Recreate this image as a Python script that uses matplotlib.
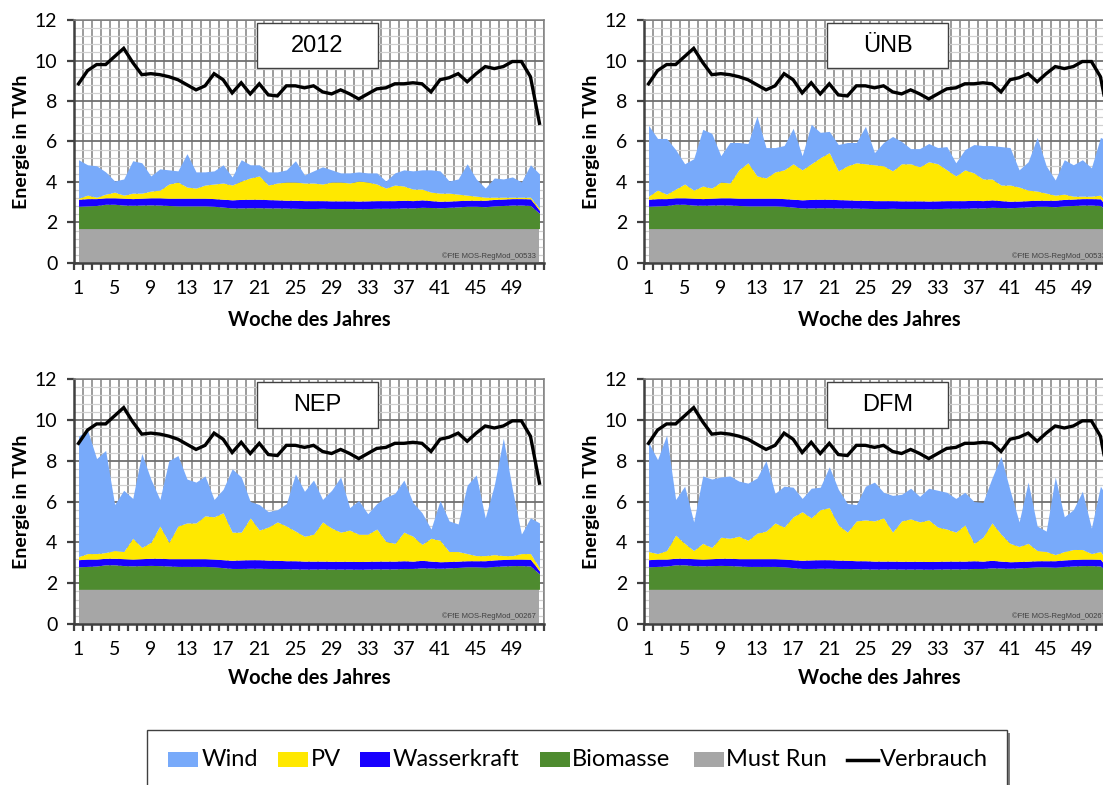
import matplotlib
matplotlib.use("Agg")
import matplotlib.pyplot as plt
import numpy as np
from matplotlib.patches import Rectangle
from matplotlib.lines import Line2D
from matplotlib.ticker import MultipleLocator, FixedLocator

weeks = list(range(1, 53))
xtick_labels = [1, 5, 9, 13, 17, 21, 25, 29, 33, 37, 41, 45, 49]

verbrauch = [8.85, 9.5, 9.8, 9.8, 10.2, 10.6, 9.9, 9.3, 9.35, 9.3,
             9.2, 9.05, 8.8, 8.55, 8.75, 9.35, 9.05, 8.4, 8.9, 8.35,
             8.85, 8.3, 8.25, 8.75, 8.75, 8.65, 8.75, 8.45, 8.35, 8.55,
             8.35, 8.1, 8.35, 8.6, 8.65, 8.85, 8.85, 8.9, 8.85, 8.45,
             9.05, 9.15, 9.35, 8.95, 9.35, 9.7, 9.6, 9.7, 9.95, 9.95,
             9.2, 6.9]

# stacked upper edges (TWh)
must_run_top = [1.7] * 52
biomasse_top = [2.80, 2.82, 2.84, 2.90, 2.90, 2.86, 2.85, 2.86, 2.87, 2.86,
                2.84, 2.82, 2.82, 2.82, 2.82, 2.80, 2.76, 2.72, 2.72, 2.73,
                2.73, 2.72, 2.72, 2.71, 2.70, 2.69, 2.69, 2.70, 2.69, 2.69,
                2.69, 2.68, 2.69, 2.70, 2.70, 2.70, 2.72, 2.72, 2.75, 2.74,
                2.73, 2.75, 2.77, 2.80, 2.80, 2.78, 2.82, 2.84, 2.86, 2.86,
                2.84, 2.45]
wasser_top = [3.15, 3.18, 3.18, 3.22, 3.22, 3.20, 3.18, 3.20, 3.22, 3.22,
              3.20, 3.20, 3.20, 3.20, 3.20, 3.18, 3.15, 3.12, 3.14, 3.15,
              3.15, 3.13, 3.12, 3.10, 3.10, 3.08, 3.08, 3.08, 3.07, 3.07,
              3.07, 3.06, 3.07, 3.08, 3.08, 3.08, 3.10, 3.08, 3.12, 3.08,
              3.05, 3.06, 3.08, 3.10, 3.10, 3.10, 3.14, 3.16, 3.18, 3.18,
              3.17, 2.60]

pv_top_2012 = [3.20, 3.35, 3.25, 3.40, 3.50, 3.35, 3.45, 3.45, 3.55, 3.60,
               3.90, 4.00, 3.75, 3.70, 3.85, 3.90, 3.95, 3.85, 4.05, 4.20,
               4.30, 3.85, 3.95, 4.00, 4.00, 3.95, 3.95, 3.90, 4.00, 4.00,
               3.95, 4.05, 4.00, 3.90, 3.70, 3.85, 3.80, 3.65, 3.65, 3.50,
               3.45, 3.45, 3.40, 3.35, 3.30, 3.25, 3.25, 3.25, 3.25, 3.25,
               3.25, 2.70]
wind_top_2012 = [5.10, 4.85, 4.80, 4.50, 4.05, 4.15, 5.05, 4.95, 4.30, 4.65,
                 4.60, 4.55, 5.40, 4.50, 4.50, 4.55, 4.85, 4.25, 5.10, 4.85,
                 4.85, 4.50, 4.50, 4.60, 5.05, 4.35, 4.55, 4.75, 4.60, 4.45,
                 4.45, 4.50, 4.45, 4.45, 4.05, 4.45, 4.60, 4.55, 4.60, 4.60,
                 4.55, 4.05, 4.15, 4.90, 4.15, 3.70, 4.20, 4.15, 4.25, 4.00,
                 4.85, 4.40]

pv_top_unb = [3.30, 3.60, 3.40, 3.65, 3.90, 3.60, 3.80, 3.70, 4.00, 3.95,
              4.60, 4.95, 4.30, 4.20, 4.50, 4.60, 4.90, 4.60, 4.90, 5.20,
              5.45, 4.55, 4.80, 4.95, 4.90, 4.85, 4.80, 4.55, 4.90, 4.90,
              4.75, 5.00, 4.90, 4.60, 4.30, 4.60, 4.45, 4.15, 4.15, 3.85,
              3.85, 3.75, 3.60, 3.55, 3.45, 3.35, 3.40, 3.30, 3.30, 3.30,
              3.35, 2.75]
wind_top_unb = [6.80, 6.15, 6.15, 5.60, 4.90, 5.15, 6.60, 6.40, 5.30, 5.95,
                5.95, 5.90, 7.25, 5.70, 5.70, 5.80, 6.65, 5.30, 6.85, 6.45,
                6.50, 5.85, 5.95, 5.95, 6.75, 5.45, 5.95, 6.25, 6.00, 5.65,
                5.65, 5.90, 5.70, 5.75, 4.95, 5.60, 5.85, 5.80, 5.80, 5.75,
                5.70, 4.60, 5.00, 6.20, 4.80, 4.10, 5.10, 4.85, 5.10, 4.70,
                6.20, 6.00]

pv_top_nep = [3.30, 3.45, 3.45, 3.50, 3.60, 3.55, 4.20, 3.75, 4.00, 4.80,
              4.00, 4.80, 4.95, 4.95, 5.30, 5.25, 5.45, 4.50, 4.50, 5.20,
              4.60, 4.75, 5.00, 4.80, 4.55, 4.30, 4.40, 5.00, 4.70, 4.50,
              4.60, 4.40, 4.40, 4.65, 4.05, 3.95, 4.50, 4.30, 3.90, 4.20,
              4.10, 3.55, 3.55, 3.45, 3.35, 3.35, 3.40, 3.35, 3.35, 3.45,
              3.45, 2.75]
wind_top_nep = [9.20, 9.50, 8.10, 8.50, 5.85, 6.55, 6.15, 8.35, 7.10, 6.10,
                8.00, 8.25, 7.10, 6.95, 7.25, 6.10, 6.60, 7.60, 7.20, 6.00,
                5.85, 5.50, 5.60, 5.90, 7.35, 6.50, 7.05, 6.10, 6.55, 7.20,
                5.70, 6.05, 5.40, 5.90, 6.20, 6.40, 7.05, 5.95, 5.45, 4.65,
                6.05, 5.05, 4.90, 6.80, 7.30, 5.20, 6.80, 9.10, 6.60, 4.40,
                5.20, 4.95]

pv_top_dfm = [3.55, 3.45, 3.60, 4.35, 3.95, 3.60, 3.95, 3.75, 4.25, 4.20,
              4.30, 4.10, 4.45, 4.55, 4.95, 4.75, 5.25, 5.50, 5.20, 5.60,
              5.70, 4.85, 4.50, 5.05, 5.10, 5.05, 5.20, 4.50, 5.05, 5.15,
              5.00, 5.10, 4.75, 4.65, 4.50, 4.85, 3.95, 4.25, 4.95, 4.40,
              3.95, 3.80, 3.95, 3.60, 3.55, 3.40, 3.55, 3.65, 3.65, 3.45,
              3.55, 2.90]
wind_top_dfm = [8.90, 8.05, 9.25, 6.10, 6.75, 5.00, 7.25, 7.10, 7.20, 7.25,
                7.00, 6.90, 7.15, 8.00, 6.40, 6.75, 6.70, 6.15, 6.65, 6.70,
                7.70, 6.60, 5.90, 5.85, 6.75, 6.95, 6.45, 6.30, 6.35, 6.65,
                6.25, 6.65, 6.55, 6.45, 6.15, 6.45, 6.00, 5.95, 7.15, 8.20,
                6.55, 5.00, 6.95, 4.80, 4.55, 7.20, 5.25, 5.60, 6.50, 4.70,
                6.75, 6.00]

panel_titles = ["2012", "ÜNB", "NEP", "DFM"]
panel_codes = ["©FfE MOS-RegMod_00533", "©FfE MOS-RegMod_00533",
               "©FfE MOS-RegMod_00267", "©FfE MOS-RegMod_00267"]
panel_pv = [pv_top_2012, pv_top_unb, pv_top_nep, pv_top_dfm]
panel_wind = [wind_top_2012, wind_top_unb, wind_top_nep, wind_top_dfm]

series_names = ["Wind", "PV", "Wasserkraft", "Biomasse", "Must Run", "Verbrauch"]
colors = {"Wind": "#78AAFA", "PV": "#FFE800", "Wasserkraft": "#1800FF",
          "Biomasse": "#4E8B2F", "Must Run": "#A6A6A6", "Verbrauch": "#000000"}

TICKFONT = ["Lato", "DejaVu Sans"]

W, H = 1103, 785
fig = plt.figure(figsize=(W / 100, H / 100), dpi=100)

# axes positions in pixels: (left, top, bottom)
panel_px = [(74, 20, 263), (644, 20, 263), (74, 379, 624), (644, 379, 624)]
AX_W = 470

for i, (lx, ty, by) in enumerate(panel_px):
    ax = fig.add_axes([lx / W, 1 - by / H, AX_W / W, (by - ty) / H])
    ax.set_xlim(0.5, 52.5)
    ax.set_ylim(0, 12)
    x = np.array(weeks)
    ax.fill_between(x, 0, must_run_top, color=colors["Must Run"], lw=0, zorder=2)
    ax.fill_between(x, must_run_top, biomasse_top, color=colors["Biomasse"], lw=0, zorder=2)
    ax.fill_between(x, biomasse_top, wasser_top, color=colors["Wasserkraft"], lw=0, zorder=2)
    ax.fill_between(x, wasser_top, panel_pv[i], color=colors["PV"], lw=0, zorder=2)
    ax.fill_between(x, panel_pv[i], panel_wind[i], color=colors["Wind"], lw=0, zorder=2)
    ax.plot(x, verbrauch, color="black", lw=2.4, zorder=3, solid_joinstyle="miter")

    ax.set_axisbelow(True)
    ax.xaxis.set_major_locator(FixedLocator(xtick_labels))
    ax.xaxis.set_minor_locator(FixedLocator(np.arange(0.5, 53, 1)))
    ax.yaxis.set_major_locator(MultipleLocator(2))
    ax.yaxis.set_minor_locator(MultipleLocator(0.4))
    ax.xaxis.grid(True, which="minor", color="#808080", lw=1.1, zorder=0)
    ax.yaxis.grid(True, which="minor", color="#d0d0d0", lw=0.9, zorder=0)
    ax.yaxis.grid(True, which="major", color="#707070", lw=1.3, zorder=0)

    ax.tick_params(axis="x", which="major", length=0, pad=12, labelsize=14)
    ax.tick_params(axis="x", which="minor", length=5, width=1.6, color="#404040",
                   direction="out")
    ax.tick_params(axis="y", which="major", length=5, width=1.6, color="#404040",
                   direction="out", pad=7, labelsize=14)
    ax.tick_params(axis="y", which="minor", length=0)
    for lab in ax.get_xticklabels() + ax.get_yticklabels():
        lab.set_family(TICKFONT)

    for s in ["left", "bottom"]:
        ax.spines[s].set_color("#404040")
        ax.spines[s].set_linewidth(1.8)
    for s in ["top", "right"]:
        ax.spines[s].set_color("#808080")
        ax.spines[s].set_linewidth(1.1)

    ax.set_xlabel("Woche des Jahres", fontsize=14.5, fontweight="bold",
                  family=TICKFONT, va="center")
    ax.set_ylabel("Energie in TWh", fontsize=14, fontweight="bold",
                  family=TICKFONT, va="center")
    h = by - ty
    ax.xaxis.set_label_coords(0.5, -(57 if i < 2 else 54) / h)
    ax.yaxis.set_label_coords(-53 / AX_W, 0.5)

    # title box
    ax.add_patch(Rectangle((0.389, 0.802), 0.258, 0.186, transform=ax.transAxes,
                           facecolor="white", edgecolor="#404040", lw=1.0,
                           zorder=6, clip_on=False))
    ax.text(0.389 + 0.129, 0.802 + 0.093, panel_titles[i], transform=ax.transAxes,
            ha="center", va="center", fontsize=17, family="Liberation Sans",
            zorder=7)
    ax.text(0.983, 0.03, panel_codes[i], transform=ax.transAxes, ha="right",
            va="center", fontsize=5.5, family="Liberation Sans", color="#404040",
            zorder=7)

# legend box (manual, matching reference layout)
lx0, lx1, ly0 = 147, 1007, 730
fig.patches.append(Rectangle(((lx0 + 3) / W, -0.1), (lx1 - lx0) / W,
                             1.1 - (ly0 + 3) / H, transform=fig.transFigure,
                             facecolor="#7f7f7f", edgecolor="none", zorder=1))
fig.patches.append(Rectangle((lx0 / W, -0.1), (lx1 - lx0) / W, 1.1 - ly0 / H,
                             transform=fig.transFigure, facecolor="white",
                             edgecolor="#404040", lw=1.0, zorder=2))
item_px = {"Wind": (168, 202), "PV": (278, 311), "Wasserkraft": (360, 393),
           "Biomasse": (540, 572), "Must Run": (694, 726), "Verbrauch": (847, 880)}
yc = 1 - 759.5 / H
for name in series_names:
    sx, tx = item_px[name]
    if name == "Verbrauch":
        fig.add_artist(Line2D([sx / W, (sx + 31) / W], [yc, yc],
                              transform=fig.transFigure, color="black", lw=2.5,
                              zorder=3))
    else:
        fig.patches.append(Rectangle((sx / W, yc - 7.5 / H), 30 / W, 15 / H,
                                     transform=fig.transFigure,
                                     facecolor=colors[name], edgecolor="none",
                                     zorder=3))
    fig.text(tx / W, yc, name, ha="left", va="center", fontsize=17,
             family=TICKFONT, zorder=4)

fig.savefig("out.png", dpi=100)
